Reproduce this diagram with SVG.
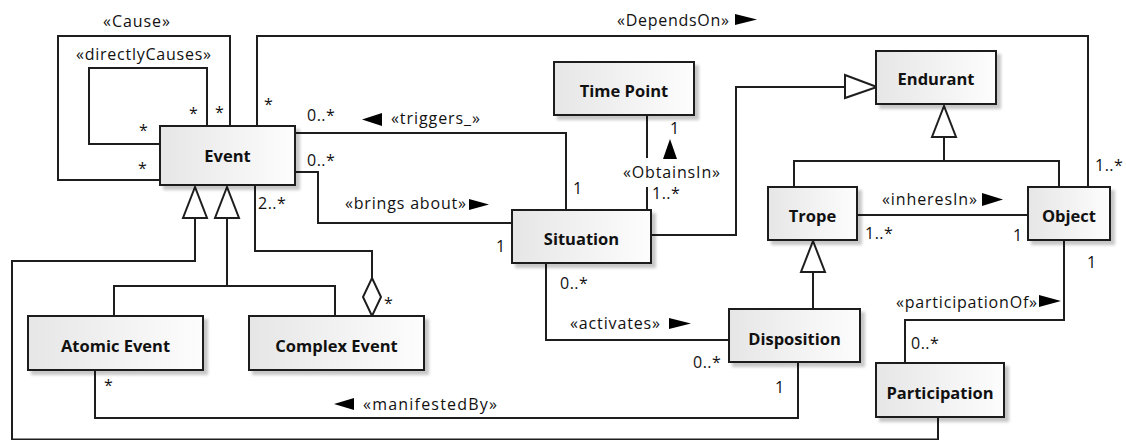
<svg xmlns="http://www.w3.org/2000/svg" width="1126" height="440" viewBox="0 0 1126 440">
<defs>
<linearGradient id="g" x1="0" y1="0" x2="1" y2="0">
<stop offset="0" stop-color="#e6e6e6"/>
<stop offset="1" stop-color="#fdfdfd"/>
</linearGradient>
<filter id="sh" x="-10%" y="-10%" width="130%" height="140%">
<feDropShadow dx="4" dy="4" stdDeviation="1.5" flood-color="#000" flood-opacity="0.22"/>
</filter>
<style>
.box{fill:url(#g);stroke:#1e1e1e;stroke-width:2;filter:url(#sh)}
.nm{font-family:"Open Sans","Noto Sans",sans-serif;font-weight:bold;font-size:16.5px;fill:#111;text-anchor:middle}
.ln{fill:none;stroke:#1e1e1e;stroke-width:2}
.hol{fill:#fff;stroke:#1e1e1e;stroke-width:2}
.lb{font-family:"Open Sans","Noto Sans",sans-serif;font-size:16px;fill:#111}
.mu{font-family:"Open Sans","Noto Sans",sans-serif;font-size:16px;fill:#111;letter-spacing:0.5px}
.ar{fill:#000}
</style>
</defs>
<rect width="1126" height="440" fill="#fff"/>
<g id="connectors">
<polyline class="ln" points="160,180 58,180 58,36 230,36 230,126"/>
<polyline class="ln" points="160,144 89,144 89,68 207,68 207,126"/>
<polyline class="ln" points="257,126 257,36 1088,36 1088,187"/>
<polyline class="ln" points="295,133 566,133 566,210"/>
<polyline class="ln" points="295,172 318,172 318,223 512,223"/>
<line class="ln" x1="647" y1="115" x2="647" y2="158"/>
<line class="ln" x1="647" y1="187" x2="647" y2="210"/>
<polyline class="ln" points="651,235 736,235 736,87 845,87"/>
<polygon class="hol" points="845,75 877,87 845,98"/>
<polygon class="hol" points="944,106 932,137 956,137"/>
<line class="ln" x1="944" y1="137" x2="944" y2="161"/>
<polyline class="ln" points="794,187 794,161 1059,161 1059,187"/>
<line class="ln" x1="857" y1="215" x2="1028" y2="215"/>
<polygon class="hol" points="813,241 801,272 825,272"/>
<line class="ln" x1="813" y1="272" x2="813" y2="309"/>
<polyline class="ln" points="546,263 546,340 729,340"/>
<polyline class="ln" points="95,370 95,418 798,418 798,362"/>
<polyline class="ln" points="1064,240 1064,320 905,320 905,363"/>
<polygon class="hol" points="195,187 183,218 207,218"/>
<polygon class="hol" points="227,187 215,218 239,218"/>
<polyline class="ln" points="195,218 195,261 12,261 12,439.5 938,439.5 938,417"/>
<line class="ln" x1="227" y1="218" x2="227" y2="286"/>
<polyline class="ln" points="114,316 114,286 335,286 335,316"/>
<polyline class="ln" points="255,185 255,251 372,251 372,278"/>
<polygon class="hol" points="372,278 381,297 372,316 363,297"/>
<polygon class="ar" points="735,14 757,19.5 735,25"/>
<polygon class="ar" points="382,113 362,119.5 382,126"/>
<polygon class="ar" points="469,199 489,204.5 469,210"/>
<polygon class="ar" points="670,139 677,159 663,159"/>
<polygon class="ar" points="982,193 1003,199.5 982,206"/>
<polygon class="ar" points="669,318 691,323.5 669,329"/>
<polygon class="ar" points="1039,295 1061,301 1039,307"/>
<polygon class="ar" points="354,398 334,404 354,410"/>
<text class="lb" x="103" y="27" textLength="67" lengthAdjust="spacing">«Cause»</text>
<text class="lb" x="76" y="60" textLength="135" lengthAdjust="spacing">«directlyCauses»</text>
<text class="lb" x="617" y="26" textLength="112" lengthAdjust="spacing">«DependsOn»</text>
<text class="lb" x="391" y="124" textLength="89" lengthAdjust="spacing">«triggers_»</text>
<text class="lb" x="345" y="209" textLength="121" lengthAdjust="spacing">«brings about»</text>
<text class="lb" x="623" y="178" textLength="97" lengthAdjust="spacing">«ObtainsIn»</text>
<text class="lb" x="882" y="205" textLength="95" lengthAdjust="spacing">«inheresIn»</text>
<text class="lb" x="570" y="329" textLength="90" lengthAdjust="spacing">«activates»</text>
<text class="lb" x="896" y="308" textLength="141" lengthAdjust="spacing">«participationOf»</text>
<text class="lb" x="363" y="410" textLength="134" lengthAdjust="spacing">«manifestedBy»</text>
<text class="mu" x="189" y="119">*</text>
<text class="mu" x="215" y="118">*</text>
<text class="mu" x="139" y="136">*</text>
<text class="mu" x="138" y="174">*</text>
<text class="mu" x="264" y="110">*</text>
<text class="mu" x="307" y="121">0..*</text>
<text class="mu" x="307" y="166">0..*</text>
<text class="mu" x="573" y="194">1</text>
<text class="mu" x="496" y="252">1</text>
<text class="mu" x="670" y="134">1</text>
<text class="mu" x="652" y="199">1..*</text>
<text class="mu" x="258" y="209">2..*</text>
<text class="mu" x="384" y="309">*</text>
<text class="mu" x="104" y="391">*</text>
<text class="mu" x="560" y="289">0..*</text>
<text class="mu" x="693" y="368">0..*</text>
<text class="mu" x="775" y="393">1</text>
<text class="mu" x="911" y="349">0..*</text>
<text class="mu" x="1087" y="268">1</text>
<text class="mu" x="865" y="239">1..*</text>
<text class="mu" x="1013" y="241">1</text>
<text class="mu" x="1095" y="171">1..*</text>
</g>
<g id="event"><rect class="box" x="160" y="126" width="135" height="59"/><text class="nm" x="227.5" y="162">Event</text></g>
<g id="time-point"><rect class="box" x="554" y="62" width="140" height="53"/><text class="nm" x="624" y="97">Time Point</text></g>
<g id="situation"><rect class="box" x="512" y="210" width="139" height="53"/><text class="nm" x="581.5" y="245">Situation</text></g>
<g id="endurant"><rect class="box" x="876" y="51" width="120" height="53"/><text class="nm" x="936" y="85">Endurant</text></g>
<g id="trope"><rect class="box" x="768" y="187" width="89" height="53"/><text class="nm" x="812.5" y="221.5">Trope</text></g>
<g id="object"><rect class="box" x="1028" y="187" width="82" height="53"/><text class="nm" x="1069" y="221.5">Object</text></g>
<g id="atomic-event"><rect class="box" x="28" y="316" width="175" height="54"/><text class="nm" x="115.5" y="352">Atomic Event</text></g>
<g id="complex-event"><rect class="box" x="249" y="316" width="175" height="54"/><text class="nm" x="336.5" y="352">Complex Event</text></g>
<g id="disposition"><rect class="box" x="729" y="309" width="131" height="53"/><text class="nm" x="794.5" y="344.5">Disposition</text></g>
<g id="participation"><rect class="box" x="876" y="363" width="128" height="54"/><text class="nm" x="940" y="398.5">Participation</text></g>
</svg>
